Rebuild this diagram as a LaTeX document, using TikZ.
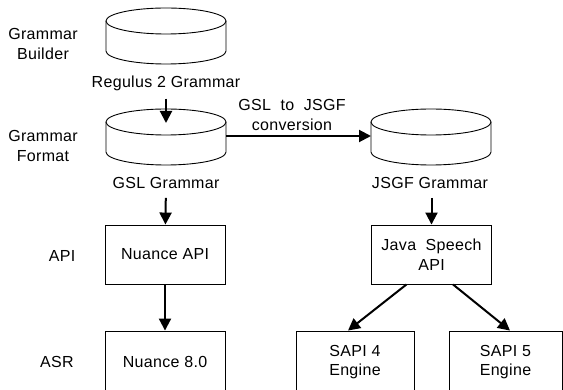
\documentclass[tikz,border=0pt]{standalone}
\usepackage{fontspec}
\setmainfont[LetterSpace=2]{Liberation Sans}
\usetikzlibrary{arrows.meta}

\begin{document}
\begin{tikzpicture}[x=1pt, y=-1pt]
\tikzset{boite/.style={draw, line width=0.9pt, minimum width=120pt, minimum height=59pt, align=center, inner sep=2pt},
  etiq/.style={align=center, inner sep=2pt},
  fleche/.style={-{Triangle[length=12pt, width=12pt]}, line width=2pt}}
\clip (0, 0) rectangle (563, 390);
\fontsize{16}{19.5}\selectfont
% cylindres
\foreach \cx/\cy in {166/21, 166/122, 431/122} {
  \draw[line width=0.9pt] (\cx, \cy) ellipse [x radius=60pt, y radius=13pt];
  \draw[line width=0.9pt] (\cx-60, \cy) -- (\cx-60, \cy+30)
    arc[start angle=180, end angle=360, x radius=60pt, y radius=13pt] -- (\cx+60, \cy);
}
\coordinate (C2) at (166, 123);
\coordinate (C2e) at (226, 136);
\coordinate (C3w) at (371, 136);
\node[etiq] (R2) at (166, 83) {Regulus 2 Grammar};
\node[etiq] (GSL) at (166, 183) {GSL Grammar};
\node[etiq] (JSGF) at (430, 183) {JSGF Grammar};
\node[etiq] (CONV) at (292, 115) {GSL \ to \ JSGF\\conversion};
\node[etiq] (L1) at (43, 44) {Grammar\\Builder};
\node[etiq] (L2) at (43, 146) {Grammar\\Format};
\node[etiq] (L3) at (62, 256) {API};
\node[etiq] (L4) at (57, 362) {ASR};
\node[boite] (NA) at (165, 254.5) {Nuance API};
\node[boite, minimum height=62pt] (N8) at (165, 362) {Nuance 8.0};
\node[boite] (J) at (431.5, 254.5) {Java \ Speech\\API};
\node[boite, minimum width=118pt, minimum height=62pt] (S4) at (355, 362) {SAPI 4\\Engine};
\node[boite, minimum width=113pt, minimum height=62pt] (S5) at (505.5, 362) {SAPI 5\\Engine};
\draw[fleche, shorten <=6pt] (R2) -- (C2);
\draw[fleche] (C2e) -- (C3w);
\draw[fleche, shorten <=7pt] (GSL) -- (NA);
\draw[fleche, shorten <=7pt] (JSGF.south -| J.north) -- (J.north);
\draw[fleche] (NA) -- (N8);
\draw[fleche] ([xshift=-25pt]J.south) -- ([xshift=-7pt]S4.north);
\draw[fleche] ([xshift=21.5pt]J.south) -- ([xshift=4.5pt]S5.north);
\end{tikzpicture}
\end{document}
